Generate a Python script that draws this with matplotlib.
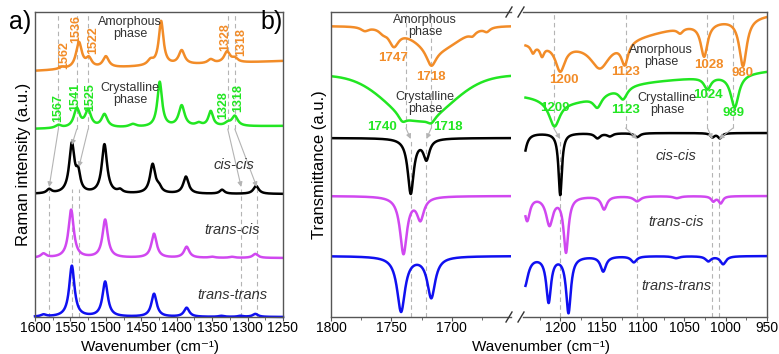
import numpy as np
import matplotlib.pyplot as plt
from matplotlib.lines import Line2D
from matplotlib.ticker import MultipleLocator

plt.rcParams['font.family'] = ['Liberation Sans', 'DejaVu Sans']

ORANGE = '#F28C28'
GREEN = '#22E622'
BLACK = '#000000'
MAGENTA = '#D048F0'
BLUE = '#1010F0'
GUIDE = '#B4B4B4'
TXT = '#333333'

# ---------------- a) Raman, peak tables ----------------
# baseline (at 1600, at 1250), peak position (cm-1), height, half width
ram_amor_base = (246, 256)
ram_amor_pos = [1562, 1538, 1524, 1500, 1437, 1422, 1393, 1352, 1329, 1318]
ram_amor_amp = [2, 26, 9, 11, 5, 44, 14, 4, 11, 4]
ram_amor_hw = [5, 5, 5, 5, 5, 4, 5, 5, 5, 5]

ram_cryst_base = (188, 191)
ram_cryst_pos = [1567, 1541, 1525, 1502, 1462, 1424, 1393, 1369, 1352, 1328, 1318]
ram_cryst_amp = [3, 19, 17, 13, 3, 45, 21, 3, 15, 3, 10]
ram_cryst_hw = [5, 5, 5, 5, 6, 4, 5, 5, 4, 5, 5]

ram_cc_base = (123, 123)
ram_cc_pos = [1580, 1548, 1539, 1502, 1480, 1434, 1425, 1387, 1336, 1288]
ram_cc_amp = [4, 49, 17, 49, 3, 29, 5, 17, 4, 8]
ram_cc_hw = [4, 4.5, 3.5, 4.5, 4, 4.5, 4, 4.5, 4, 4.5]

ram_tc_base = (59, 59)
ram_tc_pos = [1588, 1549, 1501, 1432, 1386, 1350, 1322, 1289]
ram_tc_amp = [4, 48, 38, 24, 11, 1, 1, 4]
ram_tc_hw = [4.5, 4.5, 4.5, 4.5, 4.5, 4.5, 4.5, 4.5]

ram_tt_base = (0, 0)
ram_tt_pos = [1588, 1548, 1501, 1432, 1386, 1337, 1310, 1289]
ram_tt_amp = [2, 51, 35, 23, 9, 1, 1, 3]
ram_tt_hw = [4.5, 4.5, 4.5, 4.5, 4.5, 4.5, 4.5, 4.5]

ram_amor_labels = ['1562', '1536', '1522', '1328', '1318']
ram_amor_lab_x = [1559, 1542, 1518, 1331, 1309]
ram_amor_lab_y = [262, 288, 277, 280, 275]
ram_cryst_labels = ['1567', '1541', '1525', '1328', '1318']
ram_cryst_lab_x = [1567, 1543, 1522, 1335, 1313]
ram_cryst_lab_y = [209, 220, 220, 212, 219]
# guide lines: crystalline band -> cis-cis band
ram_guide_from = [1567, 1541, 1525, 1328, 1318]
ram_guide_to = [1580, 1548, 1538, 1309, 1287]
ram_guide_to_y = [130, 172, 150, 130, 130]

# ---------------- b) FTIR, dip tables ----------------
# left window 1800-1651
ir1_amor_base = (291, 291)
ir1_amor_pos = [1772, 1757, 1748, 1717, 1683, 1671]
ir1_amor_amp = [4, 4, 17, 18, 4, 4]
ir1_amor_hw = [4, 4, 5, 5, 3, 3]
ir1_amor_broad = (1712, 22, 18)          # centre, depth, sigma

ir1_cryst_base = (242, 242)
ir1_cryst_pos = [1741, 1717]
ir1_cryst_amp = [7, 6]
ir1_cryst_hw = [4, 4]
ir1_cryst_broad = (1727, 45, 27)

ir1_cc_base = (179, 179)
ir1_cc_pos = [1734, 1721]
ir1_cc_amp = [55, 20]
ir1_cc_hw = [3, 3]

ir1_tc_base = (121, 121)
ir1_tc_pos = [1740, 1726]
ir1_tc_amp = [57, 22]
ir1_tc_hw = [3.5, 3.5]

ir1_tt_base = (61, 61)
ir1_tt_pos = [1742, 1717]
ir1_tt_amp = [55, 41]
ir1_tt_hw = [4, 4]

# right window 1242-950
ir2_amor_base = (277, 302)
ir2_amor_pos = [1233, 1222, 1200, 1152, 1122, 1055, 1026, 979]
ir2_amor_amp = [8, 10, 26, 25, 22, 5, 33, 48]
ir2_amor_hw = [3, 3, 7, 14, 5, 4, 5, 5.5]
ir2_amor_broad = (1150, 10, 60)

ir2_cryst_base = (224, 246)
ir2_cryst_pos = [1207, 1155, 1124, 1022, 989]
ir2_cryst_amp = [26, 12, 12, 12, 33]
ir2_cryst_hw = [8, 6, 6, 5, 6]
ir2_cryst_broad = (1185, 12, 35)

ir2_cc_base = (184, 184)
ir2_cc_pos = [1245, 1200, 1155, 1140, 1107, 1016, 1007]
ir2_cc_amp = [27, 62, 5, 3, 4, 4, 5]
ir2_cc_hw = [4, 2.5, 4, 4, 4, 3, 3]

ir2_tc_base = (121, 121)
ir2_tc_pos = [1240, 1213, 1193, 1147, 1107, 1059, 1015, 1006]
ir2_tc_amp = [24, 28, 55, 13, 5, 2, 5, 7]
ir2_tc_hw = [4, 5, 3.5, 4, 5, 5, 3, 3]

ir2_tt_base = (61, 61)
ir2_tt_pos = [1243, 1214, 1190, 1148, 1111, 1060, 1021, 1003]
ir2_tt_amp = [30, 45, 56, 15, 6, 2, 5, 8]
ir2_tt_hw = [5, 3.5, 3.5, 4, 4, 5, 4, 4]

ir1_amor_labels = ['1747', '1718']
ir1_amor_lab_x = [1749, 1717]
ir1_amor_lab_y = [259, 240]
ir1_cryst_labels = ['1740', '1718']
ir1_cryst_lab_x = [1758, 1703]
ir1_cryst_lab_y = [190, 190]
ir2_amor_labels = ['1200', '1123', '1028', '980']
ir2_amor_lab_x = [1196, 1121, 1020, 980]
ir2_amor_lab_y = [237, 245, 252, 244]
ir2_cryst_labels = ['1209', '1123', '1024', '989']
ir2_cryst_lab_x = [1206, 1121, 1021, 990]
ir2_cryst_lab_y = [209, 207, 222, 204]

ir1_guide_from = [1738, 1717]
ir1_guide_to = [1734, 1721]
ir2_guide_from = [1208, 1121, 1022, 991]
ir2_guide_to = [1200, 1107, 1016, 1008]


def lorentz(x, pos, amp, hw):
    y = np.zeros_like(x)
    for p, a, w in zip(pos, amp, hw):
        y += a / (1 + ((x - p) / w) ** 2)
    return y


def gauss(x, g):
    p, a, s = g
    return a * np.exp(-(x - p) ** 2 / (2 * s ** 2))


def base(x, b):
    return b[0] + (b[1] - b[0]) * (x - x[0]) / (x[-1] - x[0])


fig = plt.figure(figsize=(7.79, 3.54), dpi=100)
W, H = 779, 354


def box(l, t, r, b):
    return [l / W, 1 - b / H, (r - l) / W, (b - t) / H]


ax = fig.add_axes(box(35, 12, 283, 317))
axl = fig.add_axes(box(331, 12, 511, 317))
axr = fig.add_axes(box(523, 12, 767, 317))

lw = 1.8
dash = (0, (4, 3))
xlab = 'Wavenumber (cm\u207b\u00b9)'

# ---------------- panel a ----------------
xa = np.linspace(1600, 1250, 1400)
ax.plot(xa, base(xa, ram_amor_base) + lorentz(xa, ram_amor_pos, ram_amor_amp, ram_amor_hw), color=ORANGE, lw=lw)
ax.plot(xa, base(xa, ram_cryst_base) + lorentz(xa, ram_cryst_pos, ram_cryst_amp, ram_cryst_hw), color=GREEN, lw=lw)
ax.plot(xa, base(xa, ram_cc_base) + lorentz(xa, ram_cc_pos, ram_cc_amp, ram_cc_hw), color=BLACK, lw=lw)
ax.plot(xa, base(xa, ram_tc_base) + lorentz(xa, ram_tc_pos, ram_tc_amp, ram_tc_hw), color=MAGENTA, lw=lw)
ax.plot(xa, base(xa, ram_tt_base) + lorentz(xa, ram_tt_pos, ram_tt_amp, ram_tt_hw), color=BLUE, lw=lw, clip_on=False)

ax.vlines(ram_guide_from, 188, 305, colors=GUIDE, linestyles=dash, lw=0.8, zorder=0)
ax.vlines(ram_guide_to, 0, 128, colors=GUIDE, linestyles=dash, lw=0.8, zorder=0)
for x0, x1, y1 in zip(ram_guide_from, ram_guide_to, ram_guide_to_y):
    ax.annotate('', xy=(x1, y1), xytext=(x0, 188),
                arrowprops=dict(arrowstyle='-|>', color=GUIDE, lw=0.8, mutation_scale=7, shrinkA=0, shrinkB=0))

for t, x, y in zip(ram_amor_labels, ram_amor_lab_x, ram_amor_lab_y):
    ax.text(x, y, t, color=ORANGE, rotation=90, ha='center', va='center', fontsize=9, fontweight='bold')
for t, x, y in zip(ram_cryst_labels, ram_cryst_lab_x, ram_cryst_lab_y):
    ax.text(x, y, t, color=GREEN, rotation=90, ha='center', va='center', fontsize=9, fontweight='bold')

ax.text(1466, 289, 'Amorphous\nphase', color=TXT, ha='center', va='center', fontsize=9, linespacing=1.05)
ax.text(1466, 223, 'Crystalline\nphase', color=TXT, ha='center', va='center', fontsize=9, linespacing=1.05)
ax.text(1319, 152, 'cis-cis', style='italic', color=TXT, ha='center', va='center', fontsize=10.5)
ax.text(1322, 87, 'trans-cis', style='italic', color=TXT, ha='center', va='center', fontsize=10.5)
ax.text(1322, 22, 'trans-trans', style='italic', color=TXT, ha='center', va='center', fontsize=10.5)

ax.set_xlim(1600, 1250)
ax.set_ylim(0, 305)
ax.set_yticks([])
ax.xaxis.set_major_locator(MultipleLocator(50))
ax.xaxis.set_minor_locator(MultipleLocator(25))
ax.set_ylabel('Raman intensity (a.u.)', fontsize=12, labelpad=3)
fig.text(150 / W, 1 - 353.5 / H, xlab, fontsize=11, ha='center', va='bottom')

# ---------------- panel b ----------------
xl = np.linspace(1800, 1651, 700)
axl.plot(xl, base(xl, ir1_amor_base) - gauss(xl, ir1_amor_broad) - lorentz(xl, ir1_amor_pos, ir1_amor_amp, ir1_amor_hw), color=ORANGE, lw=lw)
axl.plot(xl, base(xl, ir1_cryst_base) - gauss(xl, ir1_cryst_broad) - lorentz(xl, ir1_cryst_pos, ir1_cryst_amp, ir1_cryst_hw), color=GREEN, lw=lw)
axl.plot(xl, base(xl, ir1_cc_base) - lorentz(xl, ir1_cc_pos, ir1_cc_amp, ir1_cc_hw), color=BLACK, lw=lw)
axl.plot(xl, base(xl, ir1_tc_base) - lorentz(xl, ir1_tc_pos, ir1_tc_amp, ir1_tc_hw), color=MAGENTA, lw=lw)
axl.plot(xl, base(xl, ir1_tt_base) - lorentz(xl, ir1_tt_pos, ir1_tt_amp, ir1_tt_hw), color=BLUE, lw=lw)

xr = np.linspace(1242, 950, 1200)
axr.plot(xr, base(xr, ir2_amor_base) - gauss(xr, ir2_amor_broad) - lorentz(xr, ir2_amor_pos, ir2_amor_amp, ir2_amor_hw), color=ORANGE, lw=lw)
axr.plot(xr, base(xr, ir2_cryst_base) - gauss(xr, ir2_cryst_broad) - lorentz(xr, ir2_cryst_pos, ir2_cryst_amp, ir2_cryst_hw), color=GREEN, lw=lw)
axr.plot(xr, base(xr, ir2_cc_base) - lorentz(xr, ir2_cc_pos, ir2_cc_amp, ir2_cc_hw), color=BLACK, lw=lw)
axr.plot(xr, base(xr, ir2_tc_base) - lorentz(xr, ir2_tc_pos, ir2_tc_amp, ir2_tc_hw), color=MAGENTA, lw=lw)
axr.plot(xr, base(xr, ir2_tt_base) - lorentz(xr, ir2_tt_pos, ir2_tt_amp, ir2_tt_hw), color=BLUE, lw=lw)

for a, gf, gt in [(axl, ir1_guide_from, ir1_guide_to), (axr, ir2_guide_from, ir2_guide_to)]:
    a.vlines(gf, 189, 305, colors=GUIDE, linestyles=dash, lw=0.8, zorder=0)
    a.vlines(gt, 0, 178, colors=GUIDE, linestyles=dash, lw=0.8, zorder=0)
    for x0, x1 in zip(gf, gt):
        a.annotate('', xy=(x1, 178), xytext=(x0, 189),
                   arrowprops=dict(arrowstyle='-|>', color=GUIDE, lw=0.8, mutation_scale=7, shrinkA=0, shrinkB=0))

for a, labs, xs, ys, c in [(axl, ir1_amor_labels, ir1_amor_lab_x, ir1_amor_lab_y, ORANGE),
                           (axl, ir1_cryst_labels, ir1_cryst_lab_x, ir1_cryst_lab_y, GREEN),
                           (axr, ir2_amor_labels, ir2_amor_lab_x, ir2_amor_lab_y, ORANGE),
                           (axr, ir2_cryst_labels, ir2_cryst_lab_x, ir2_cryst_lab_y, GREEN)]:
    for t, x, y in zip(labs, xs, ys):
        a.text(x, y, t, color=c, ha='center', va='center', fontsize=9.5, fontweight='bold')

axl.text(1722, 291, 'Amorphous\nphase', color=TXT, ha='center', va='center', fontsize=9, linespacing=1.05)
axl.text(1722, 214, 'Crystalline\nphase', color=TXT, ha='center', va='center', fontsize=9, linespacing=1.05)
axr.text(1078, 261, 'Amorphous\nphase', color=TXT, ha='center', va='center', fontsize=9, linespacing=1.05)
axr.text(1071, 213, 'Crystalline\nphase', color=TXT, ha='center', va='center', fontsize=9, linespacing=1.05)
axr.text(1060, 161, 'cis-cis', style='italic', color=TXT, ha='center', va='center', fontsize=10.5)
axr.text(1060, 95, 'trans-cis', style='italic', color=TXT, ha='center', va='center', fontsize=10.5)
axr.text(1060, 31, 'trans-trans', style='italic', color=TXT, ha='center', va='center', fontsize=10.5)

axl.set_xlim(1800, 1651)
axr.set_xlim(1245, 950)
for a in (axl, axr):
    a.set_ylim(0, 305)
    a.set_yticks([])
    a.xaxis.set_major_locator(MultipleLocator(50))
    a.xaxis.set_minor_locator(MultipleLocator(25))
axl.spines['right'].set_visible(False)
axr.spines['left'].set_visible(False)
axl.set_ylabel('Transmittance (a.u.)', fontsize=12, labelpad=3)
fig.text(541 / W, 1 - 353.5 / H, xlab, fontsize=11, ha='center', va='bottom')

for a in (ax, axl, axr):
    for s in a.spines.values():
        s.set_color('#555555')
        s.set_linewidth(1.0)
    a.tick_params(axis='x', which='major', direction='out', length=3, labelsize=10, pad=0, color='#555555')
    a.tick_params(axis='x', which='minor', direction='out', length=2, color='#555555')

# axis break marks
for yb in (12, 317):
    for xb in (506, 518):
        fig.add_artist(Line2D([xb / W, (xb + 6) / W], [1 - (yb + 5) / H, 1 - (yb - 5) / H],
                              color='#333333', lw=1.0))

fig.text(20 / W, 1 - 22 / H, 'a)', fontsize=18, ha='center', va='center')
fig.text(272 / W, 1 - 22 / H, 'b)', fontsize=18, ha='center', va='center')

fig.savefig('out.png', dpi=100)
